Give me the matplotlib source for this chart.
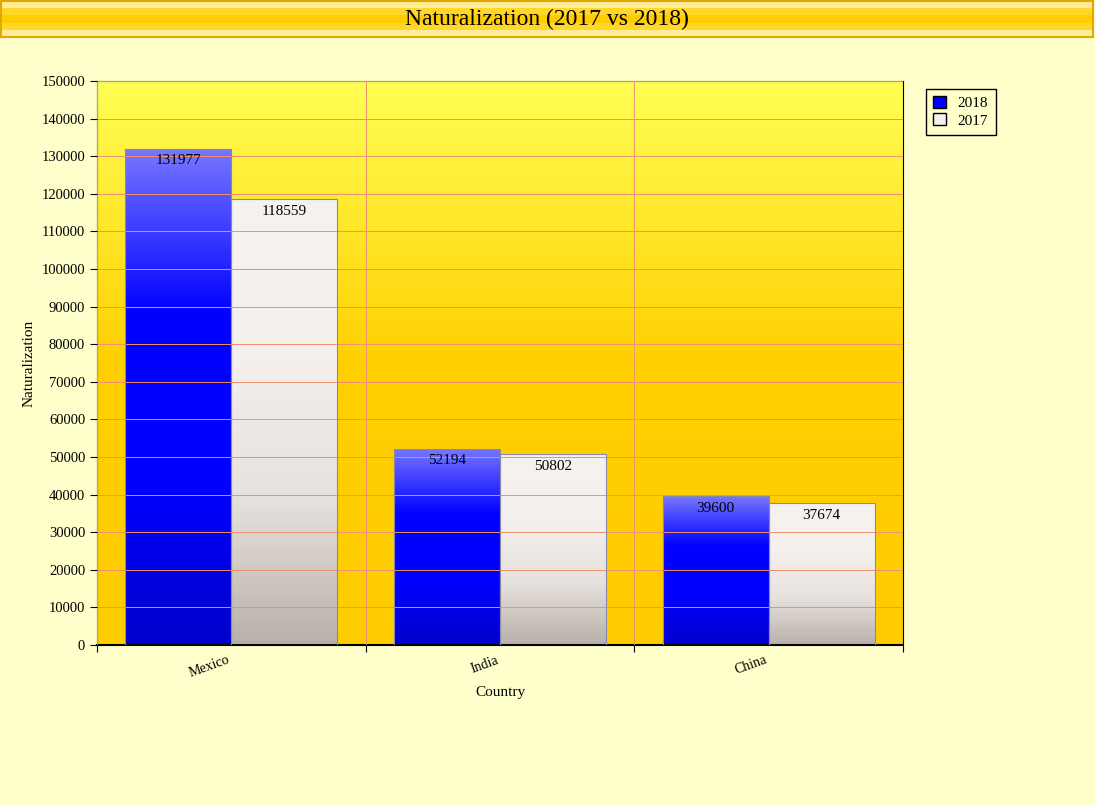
import matplotlib.pyplot as plt
import numpy as np
from matplotlib.colors import LinearSegmentedColormap
from matplotlib.patches import Rectangle, Patch

plt.rcParams['font.family'] = ['Liberation Serif', 'DejaVu Serif']

countries = ["Mexico", "India", "China"]
vals_2018 = [131977, 52194, 39600]
vals_2017 = [118559, 50802, 37674]

fig = plt.figure(figsize=(10.95, 8.05), dpi=100, facecolor='#FFFFCC')
ax = fig.add_axes([97/1095, 1-645/805, 806/1095, 564/805])

# title bar
tax = fig.add_axes([0.001, 1-37/805, 0.997, 36/805])
tg = np.array([0, 0.35, 0.5, 0.65, 1.0]).reshape(-1, 1)
tcm = LinearSegmentedColormap.from_list('t', ['#ffee99', '#ffdd44', '#ffcc00', '#ffdd44', '#ffee99'])
tax.imshow(tg, aspect='auto', cmap=tcm, extent=[0, 1, 0, 1])
tax.set_xticks([]); tax.set_yticks([])
for s in tax.spines.values():
    s.set_color('#e0a800'); s.set_linewidth(1.5)
tax.text(0.5, 0.5, "Naturalization (2017 vs 2018)", ha='center', va='center', fontsize=17)

# background gradient
bg = LinearSegmentedColormap.from_list('bg', ['#ffcc00', '#ffd000', '#ffff55'])
ax.imshow(np.linspace(0, 1, 256).reshape(-1, 1), aspect='auto', cmap=bg,
          extent=[0, 3, 0, 150000], origin='lower', zorder=0)

blue = LinearSegmentedColormap.from_list('b', ['#0000cc', '#0000ff', '#0000ff', '#7777ff'])
white = LinearSegmentedColormap.from_list('w', ['#b8b0aa', '#e8e2de', '#f4f0ee', '#f6f2f0'])

x = np.arange(len(countries)) + 0.5
w = 0.395
for vals, off, cm in [(vals_2018, -w, blue), (vals_2017, 0, white)]:
    for xi, v in zip(x, vals):
        x0 = xi + off
        im = ax.imshow(np.linspace(0, 1, 256).reshape(-1, 1), aspect='auto', cmap=cm,
                       extent=[x0, x0 + w, 0, v], origin='lower', zorder=2)
        r = Rectangle((x0, 0), w, v, facecolor='none', edgecolor='#8888aa', lw=0.8, zorder=3)
        ax.add_patch(r)
        im.set_clip_path(r)
        ax.text(x0 + w / 2, v - 1500, str(v), ha='center', va='top', fontsize=11, zorder=4)

ax.set_xlim(0, 3)
ax.set_ylim(0, 150000)
ax.set_yticks(np.arange(0, 150001, 10000))
ax.set_xticks([1, 2], minor=False)
ax.set_xticklabels([])
ax.set_xticks(x, minor=True)
ax.set_xticklabels(countries, minor=True, rotation=20, ha='right', fontsize=10)
ax.tick_params(axis='x', which='minor', length=0, pad=6)
ax.tick_params(axis='both', which='major', labelsize=10.5, length=5, direction='out')
ax.set_xticks([0, 1, 2, 3])
ax.set_xticklabels([])
ax.grid(True, which='major', color='#f09070', lw=0.7, zorder=1)
ax.set_axisbelow(False)
for line in ax.get_xgridlines() + ax.get_ygridlines():
    line.set_zorder(1)
ax.set_xlabel("Country", fontsize=11)
ax.set_ylabel("Naturalization", fontsize=11)
ax.spines['bottom'].set_linewidth(1.5)

handles = [Patch(facecolor='#0000ff', edgecolor='black', label='2018'),
           Patch(facecolor='#f4f0ee', edgecolor='black', label='2017')]
fig.legend(handles=handles, loc='upper left', bbox_to_anchor=(918/1095, 1-81/805),
           fancybox=False, edgecolor='black', facecolor='#FFFFCC', framealpha=1,
           fontsize=11, handlelength=0.8, handleheight=0.8, borderpad=0.5, labelspacing=0.2)

fig.savefig('out.png', dpi=100, facecolor='#FFFFCC')
